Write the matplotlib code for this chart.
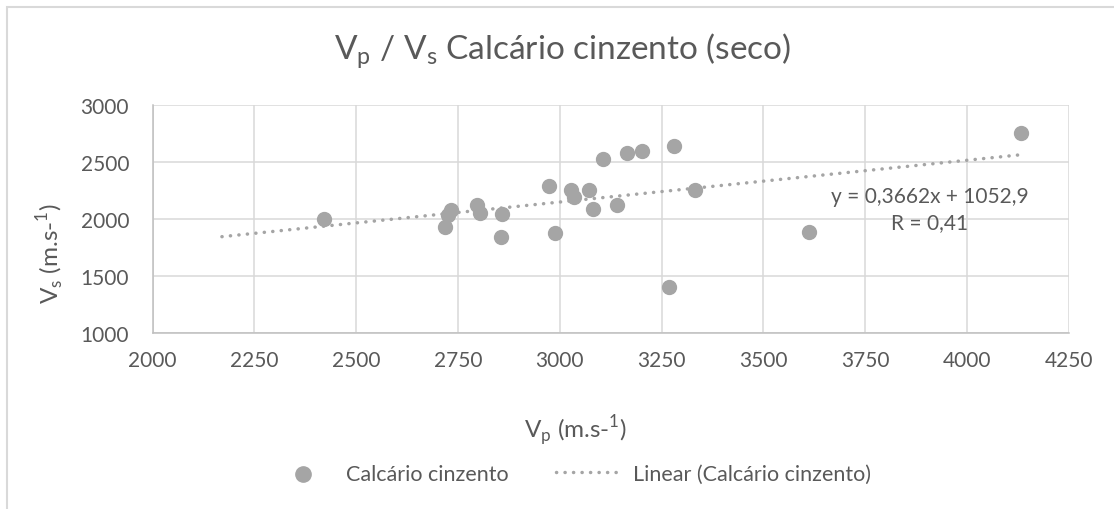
import matplotlib
matplotlib.use("Agg")
import matplotlib.pyplot as plt
from matplotlib.patches import Rectangle
import numpy as np

# data
vp = [2421, 2718, 2726, 2733, 2796, 2804, 2855, 2859, 2973, 2988, 3027, 3035,
      3072, 3082, 3107, 3140, 3166, 3202, 3269, 3281, 3332, 3612, 4134]
vs = [2000, 1936, 2038, 2082, 2123, 2059, 1848, 2044, 2292, 1877, 2253, 2199,
      2254, 2094, 2532, 2125, 2579, 2603, 1406, 2647, 2254, 1892, 2761]
slope = 0.3662
intercept = 1052.9
r_value = 0.41
trend_start = 2170
xticks = [2000, 2250, 2500, 2750, 3000, 3250, 3500, 3750, 4000, 4250]
yticks = [1000, 1500, 2000, 2500, 3000]

plt.rcParams['font.family'] = ['Lato', 'DejaVu Sans']
grey_txt = '#595959'
mark_col = '#A5A5A5'

fig = plt.figure(figsize=(11.14, 5.10), dpi=100)
ax = fig.add_axes([0.1371, 0.3445, 0.8222, 0.4471])

ax.scatter(vp, vs, s=100, color=mark_col, zorder=3, label='Calcário cinzento')
xt = np.array([trend_start, max(vp)])
ax.plot(xt, slope * xt + intercept, color=mark_col, lw=2.5,
        linestyle=(0, (0.05, 2.4)), dash_capstyle='round', zorder=2,
        label='Linear (Calcário cinzento)')

ax.set_xlim(2000, 4250)
ax.set_ylim(1000, 3000)
ax.set_xticks(xticks)
ax.set_yticks(yticks)
ax.grid(True, color='#D9D9D9', lw=1.1)
ax.set_axisbelow(True)
for s in ['top', 'right']:
    ax.spines[s].set_visible(False)
for s in ['left', 'bottom']:
    ax.spines[s].set_color('#BFBFBF')
    ax.spines[s].set_linewidth(1.1)
ax.tick_params(axis='y', length=0, labelsize=15, colors=grey_txt, pad=17)
ax.tick_params(axis='x', length=0, labelsize=15, colors=grey_txt, pad=12)

ax.set_xlabel(r'V$_\mathregular{p}$ (m.s-$^\mathregular{1}$)', fontsize=17.5,
              color=grey_txt)
ax.xaxis.set_label_coords(0.461, -0.35)
ax.set_ylabel(r'V$_\mathregular{s}$ (m.s-$^\mathregular{1}$)', fontsize=17.5,
              color=grey_txt)
ax.yaxis.set_label_coords(-0.094, 0.352)

ax.text(3909, 2090, 'y = 0,3662x + 1052,9\nR = %s' % str(r_value).replace('.', ','),
        ha='center', va='center', multialignment='center', fontsize=15,
        color=grey_txt, linespacing=1.4)

fig.text(0.505, 0.9, r'V$_\mathregular{p}$ / V$_\mathregular{s}$ Calcário cinzento (seco)',
         ha='center', va='center', fontsize=24, color=grey_txt)

leg = fig.legend(loc='center', bbox_to_anchor=(0.5117, 0.0686), ncol=2, frameon=False,
                 fontsize=15.5, labelcolor=grey_txt, handlelength=3.16,
                 columnspacing=2.2, handletextpad=0.4, markerscale=1.1)

fig.add_artist(Rectangle((0.0063, -0.1), 1.2, 1.0843, transform=fig.transFigure,
                         fill=False, edgecolor='#D9D9D9', lw=1.5))

fig.savefig('out.png', dpi=100, facecolor='white')
